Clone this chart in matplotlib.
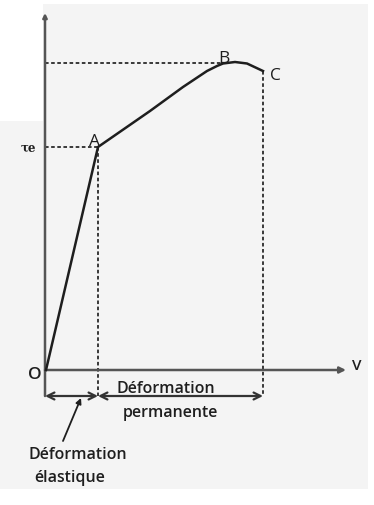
import matplotlib
matplotlib.use("Agg")
import matplotlib.pyplot as plt
from matplotlib.patches import Rectangle

# Stress–strain (shear) curve: points O, A (elastic limit), B (maximum), C (rupture)
gamma_curve = [0, 52, 104, 137, 161, 171, 177, 189, 201, 217]
tau_curve = [0, 223, 259, 283, 299, 304, 306.5, 308, 306.5, 299]

gamma_A, tau_A = 52, 223
gamma_B, tau_B = 177, 307
gamma_C, tau_C = 217, 299

point_labels = ["A", "B", "C"]
axis_labels = ["O", "V", "τe"]

fig = plt.figure(figsize=(3.74, 5.06), dpi=100)
ax = fig.add_axes([0, 0, 1, 1])
ax.set_xlim(-46, 374 - 46)
ax.set_ylim(371 - 506, 371)
ax.axis("off")

bg = "#f4f4f4"
ax.add_patch(Rectangle((-3, 371 - 490), 325, 485, color=bg, zorder=0, lw=0))
ax.add_patch(Rectangle((-46, 371 - 490), 46, 368, color=bg, zorder=0, lw=0))

ink = "#1e1e1e"
fam = "Open Sans"
fs = 11.5

# Axes
ax.annotate("", xy=(-1, 357), xytext=(-1, -26),
            arrowprops=dict(arrowstyle="-|>", color="#555555", lw=1.8,
                            mutation_scale=6, shrinkA=0, shrinkB=0))
ax.annotate("", xy=(300, 0), xytext=(-1, 0),
            arrowprops=dict(arrowstyle="-|>", color="#555555", lw=1.8,
                            mutation_scale=9, shrinkA=0, shrinkB=0))

# Curve
ax.plot(gamma_curve, tau_curve, color=ink, lw=1.8, zorder=3,
        solid_joinstyle="round")

# Dashed guides
dash = dict(color="#2a2a2a", lw=1.3, ls=(0, (2.0, 1.4)))
ax.plot([-1, gamma_A], [tau_A, tau_A], **dash)
ax.plot([-1, gamma_B], [tau_B, tau_B], **dash)
ax.plot([gamma_A, gamma_A], [tau_A, -26], **dash)
ax.plot([gamma_C, gamma_C], [tau_C, -26], **dash)

# Double-headed dimension arrows
arr = dict(arrowstyle="<->,head_length=0.5,head_width=0.25", color="#333333",
           lw=1.6, shrinkA=0, shrinkB=0)
ax.annotate("", xy=(gamma_A, -26), xytext=(-1, -26), arrowprops=arr)
ax.annotate("", xy=(gamma_C, -26), xytext=(gamma_A, -26), arrowprops=arr)

# Labels
tk = dict(color=ink, family=fam, weight="semibold")
lk = dict(color=ink, family=fam, weight="normal")
ax.text(gamma_A - 9, tau_A - 2, point_labels[0], fontsize=12.5, ha="left",
        va="bottom", **lk)
ax.text(gamma_B - 5, tau_B - 3, point_labels[1], fontsize=12.5, ha="left",
        va="bottom", **lk)
ax.text(gamma_C + 7, tau_C - 4, point_labels[2], fontsize=12.5, ha="left",
        va="center", **lk)
ax.text(-11, -4, axis_labels[0], fontsize=12.5, ha="center", va="center", **tk)
ax.text(311, 5, axis_labels[1], fontsize=11, ha="center", va="center", **tk)
ax.text(-18, tau_A, axis_labels[2], fontsize=8.5, ha="center", va="center",
        color=ink, family="DejaVu Serif", weight="bold")

ax.text(120, -18, "Déformation", fontsize=fs, ha="center", va="center", **tk)
ax.text(124, -42, "permanente", fontsize=fs, ha="center", va="center", **tk)

ax.annotate("", xy=(35, -28), xytext=(17, -71),
            arrowprops=dict(arrowstyle="-|>", color=ink, lw=1.3,
                            mutation_scale=8, shrinkA=0, shrinkB=0))
ax.text(32, -84, "Déformation", fontsize=fs, ha="center", va="center", **tk)
ax.text(24, -107, "élastique", fontsize=fs, ha="center", va="center", **tk)

fig.savefig("out.png", dpi=100, facecolor="white")
